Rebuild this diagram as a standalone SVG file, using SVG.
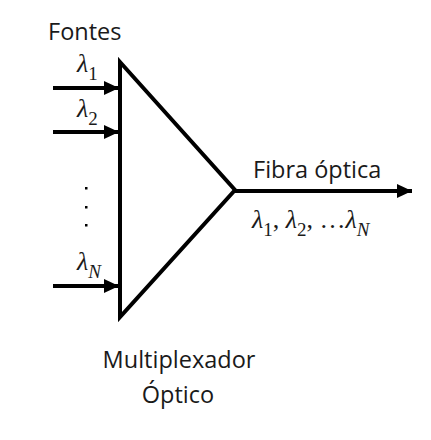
<svg xmlns="http://www.w3.org/2000/svg" width="431" height="440" viewBox="0 0 431 440">
<style>
.t{font-family:"Open Sans","Liberation Sans",sans-serif;font-size:23.5px;fill:#1a1a1a}
.m{font-family:"Liberation Serif","DejaVu Serif",serif;font-size:26px;fill:#1a1a1a}
.i{font-style:italic}
.s{font-size:19px}
.ln{stroke:#000;stroke-width:4;fill:none}
</style>
<defs>
<marker id="ah" markerUnits="userSpaceOnUse" markerWidth="16" markerHeight="16" refX="15" refY="8" orient="auto">
<path d="M0,1 L15,8 L0,15 Z" fill="#000"/>
</marker>
</defs>
<rect width="431" height="440" fill="#fff"/>
<g id="mux">
<path d="M120,62 L235,190 L120,317 Z" class="ln" stroke-linejoin="miter"/>
</g>
<g id="connectors">
<line x1="53" y1="88" x2="119" y2="88" class="ln" marker-end="url(#ah)"/>
<line x1="53" y1="132" x2="119" y2="132" class="ln" marker-end="url(#ah)"/>
<line x1="53" y1="286" x2="119" y2="286" class="ln" marker-end="url(#ah)"/>
<line x1="235" y1="191" x2="412" y2="191" class="ln" marker-end="url(#ah)"/>
</g>
<g id="labels">
<text class="t" x="48" y="40">Fontes</text>
<text class="m" x="77" y="72"><tspan class="i">λ</tspan><tspan class="s" dy="8">1</tspan></text>
<text class="m" x="77" y="117"><tspan class="i">λ</tspan><tspan class="s" dy="8">2</tspan></text>
<text class="m" x="77" y="270"><tspan class="i">λ</tspan><tspan class="s i" dy="8">N</tspan></text>
<rect x="85" y="187" width="2.5" height="2.5" fill="#000"/>
<rect x="85" y="206" width="2.5" height="2.5" fill="#000"/>
<rect x="85" y="224" width="2.5" height="2.5" fill="#000"/>
<text class="t" x="253" y="178">Fibra óptica</text>
<text class="m" x="252" y="228"><tspan class="i">λ</tspan><tspan class="s" dy="8">1</tspan><tspan dy="-8">, </tspan><tspan class="i">λ</tspan><tspan class="s" dy="8">2</tspan><tspan dy="-8">, …</tspan><tspan class="i">λ</tspan><tspan class="s i" dy="8">N</tspan></text>
<text class="t" x="179" y="368" text-anchor="middle">Multiplexador</text>
<text class="t" x="178" y="403" text-anchor="middle">Óptico</text>
</g>
</svg>
